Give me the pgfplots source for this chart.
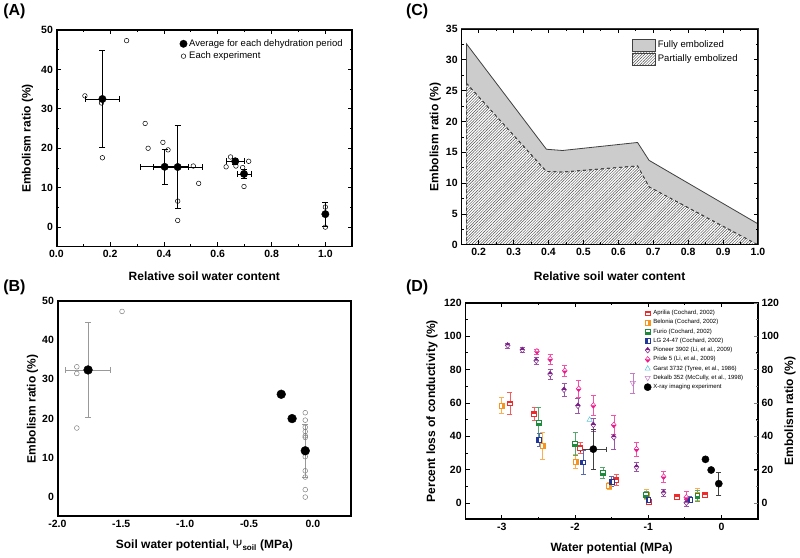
\documentclass[border=0pt]{standalone}
\usepackage{fontspec}
\setmainfont{Liberation Sans}
\usepackage{pgfplots}
\pgfplotsset{compat=1.18}
\usetikzlibrary{patterns.meta}

% half-filled marks
\pgfdeclareplotmark{sqtop}{%
  \begin{pgfscope}\pgfsetfillcolor{white}%
  \pgfpathrectangle{\pgfpoint{-\pgfplotmarksize}{-\pgfplotmarksize}}{\pgfpoint{2\pgfplotmarksize}{2\pgfplotmarksize}}\pgfusepathqfill\end{pgfscope}%
  \pgfpathrectangle{\pgfpoint{-\pgfplotmarksize}{0pt}}{\pgfpoint{2\pgfplotmarksize}{\pgfplotmarksize}}\pgfusepathqfill
  \pgfpathrectangle{\pgfpoint{-\pgfplotmarksize}{-\pgfplotmarksize}}{\pgfpoint{2\pgfplotmarksize}{2\pgfplotmarksize}}\pgfusepathqstroke}
\pgfdeclareplotmark{sqbot}{%
  \begin{pgfscope}\pgfsetfillcolor{white}%
  \pgfpathrectangle{\pgfpoint{-\pgfplotmarksize}{-\pgfplotmarksize}}{\pgfpoint{2\pgfplotmarksize}{2\pgfplotmarksize}}\pgfusepathqfill\end{pgfscope}%
  \pgfpathrectangle{\pgfpoint{-\pgfplotmarksize}{-\pgfplotmarksize}}{\pgfpoint{2\pgfplotmarksize}{\pgfplotmarksize}}\pgfusepathqfill
  \pgfpathrectangle{\pgfpoint{-\pgfplotmarksize}{-\pgfplotmarksize}}{\pgfpoint{2\pgfplotmarksize}{2\pgfplotmarksize}}\pgfusepathqstroke}
\pgfdeclareplotmark{sqleft}{%
  \begin{pgfscope}\pgfsetfillcolor{white}%
  \pgfpathrectangle{\pgfpoint{-\pgfplotmarksize}{-\pgfplotmarksize}}{\pgfpoint{2\pgfplotmarksize}{2\pgfplotmarksize}}\pgfusepathqfill\end{pgfscope}%
  \pgfpathrectangle{\pgfpoint{-\pgfplotmarksize}{-\pgfplotmarksize}}{\pgfpoint{\pgfplotmarksize}{2\pgfplotmarksize}}\pgfusepathqfill
  \pgfpathrectangle{\pgfpoint{-\pgfplotmarksize}{-\pgfplotmarksize}}{\pgfpoint{2\pgfplotmarksize}{2\pgfplotmarksize}}\pgfusepathqstroke}
\pgfdeclareplotmark{sqright}{%
  \begin{pgfscope}\pgfsetfillcolor{white}%
  \pgfpathrectangle{\pgfpoint{-\pgfplotmarksize}{-\pgfplotmarksize}}{\pgfpoint{2\pgfplotmarksize}{2\pgfplotmarksize}}\pgfusepathqfill\end{pgfscope}%
  \pgfpathrectangle{\pgfpoint{0pt}{-\pgfplotmarksize}}{\pgfpoint{\pgfplotmarksize}{2\pgfplotmarksize}}\pgfusepathqfill
  \pgfpathrectangle{\pgfpoint{-\pgfplotmarksize}{-\pgfplotmarksize}}{\pgfpoint{2\pgfplotmarksize}{2\pgfplotmarksize}}\pgfusepathqstroke}
\def\dmpath{\pgfpathmoveto{\pgfpoint{0pt}{1.2\pgfplotmarksize}}\pgfpathlineto{\pgfpoint{\pgfplotmarksize}{0pt}}\pgfpathlineto{\pgfpoint{0pt}{-1.2\pgfplotmarksize}}\pgfpathlineto{\pgfpoint{-\pgfplotmarksize}{0pt}}\pgfpathclose}
\pgfdeclareplotmark{dmtop}{%
  \begin{pgfscope}\pgfsetfillcolor{white}\dmpath\pgfusepathqfill\end{pgfscope}%
  \pgfpathmoveto{\pgfpoint{-\pgfplotmarksize}{0pt}}\pgfpathlineto{\pgfpoint{0pt}{1.2\pgfplotmarksize}}\pgfpathlineto{\pgfpoint{\pgfplotmarksize}{0pt}}\pgfpathclose\pgfusepathqfill
  \dmpath\pgfusepathqstroke}
\pgfdeclareplotmark{dmbot}{%
  \begin{pgfscope}\pgfsetfillcolor{white}\dmpath\pgfusepathqfill\end{pgfscope}%
  \pgfpathmoveto{\pgfpoint{-\pgfplotmarksize}{0pt}}\pgfpathlineto{\pgfpoint{0pt}{-1.2\pgfplotmarksize}}\pgfpathlineto{\pgfpoint{\pgfplotmarksize}{0pt}}\pgfpathclose\pgfusepathqfill
  \dmpath\pgfusepathqstroke}

\definecolor{cApr}{HTML}{EE2A2A}
\definecolor{cBel}{HTML}{F7941D}
\definecolor{cFur}{HTML}{1E8A3C}
\definecolor{cLG}{HTML}{22379A}
\definecolor{cPio}{HTML}{7A1F86}
\definecolor{cPri}{HTML}{F0198C}
\definecolor{cGar}{HTML}{5CC6DC}
\definecolor{cDek}{HTML}{C47CC4}

\pgfplotsset{
  base/.style={scale only axis, anchor=south west,
    /pgf/number format/assume math mode=true,
    tick label style={font=\bfseries\fontsize{10.5}{12}\selectfont},
    label style={font=\bfseries\fontsize{12}{14}\selectfont},
    tick align=inside, major tick length=4.5pt, minor tick length=2.5pt,
    axis line style={draw=black, line width=1.2pt},
    tick style={draw=black, line width=0.8pt},
    axis background/.style={draw=black, line width=1.2pt},
    after end axis/.append code={\draw[black, line width=1.2pt] ([shift={(0.7pt,0.7pt)}]rel axis cs:0,0) rectangle ([shift={(-0.7pt,-0.7pt)}]rel axis cs:1,1);}},
  onedec/.style={xticklabel style={/pgf/number format/fixed, /pgf/number format/fixed zerofill, /pgf/number format/precision=1}},
  dser/.style n args={2}{only marks, mark=#1, mark size=2.4pt, color=#2,
    mark options={draw=#2, fill=#2, line width=0.5pt, solid},
    error bars/y dir=both, error bars/y explicit,
    error bars/error bar style={#2!75, line width=0.6pt},
    error bars/error mark options={rotate=90, #2!75, mark size=2.5pt, line width=0.6pt}},
}

\begin{document}
\begin{tikzpicture}[x=1pt,y=1pt]
\path (0,0) rectangle (800,558);

\node[font=\bfseries\fontsize{16}{18}\selectfont] at (14,547) {(A)};
\node[font=\bfseries\fontsize{16}{18}\selectfont] at (417,547) {(C)};
\node[font=\bfseries\fontsize{16}{18}\selectfont] at (14,270) {(B)};
\node[font=\bfseries\fontsize{16}{18}\selectfont] at (417,270) {(D)};

% ---------------- Panel A ----------------
\begin{axis}[base, onedec, at={(56pt,311pt)}, width=296pt, height=217pt,
  xmin=0, xmax=1.1, ymin=-5, ymax=50,
  xtick={0,0.2,0.4,0.6,0.8,1.0}, ytick={0,10,20,30,40,50},
  minor x tick num=1, minor y tick num=1,
  xlabel={Relative soil water content}, ylabel={Embolism ratio (\%)},
  xlabel style={at={(axis description cs:0.5,-0.134)}, anchor=center},
  ylabel style={at={(axis description cs:-0.098,0.5)}, anchor=center},
  legend style={at={(0.985,0.975)}, anchor=north east, draw=none, fill=none,
    font=\fontsize{9.5}{11}\selectfont, row sep=0pt, cells={anchor=west}},
  legend cell align=left]
\addplot[only marks, mark=*, mark size=3.7pt, black,
  error bars/.cd, x dir=both, x explicit, y dir=both, y explicit,
  error bar style={line width=0.8pt}, error mark options={rotate=90, mark size=3pt, line width=0.8pt}]
  coordinates {
  (0.171,32.5) +- (0.065,12.2)
  (0.4025,15.3) +- (0.09,4.5)
  (0.451,15.25) +- (0.09,10.5)
  (0.665,16.7) +- (0.034,0.8)
  (0.6975,13.5) +- (0.026,1.2)
  (1.0,3.3) +- (0,3)
  };
\addlegendentry{Average for each dehydration period}
\addplot[only marks, mark=o, mark size=2.3pt, black, mark options={fill=white, line width=0.5pt}]
  coordinates {
  (0.106,33.3) (0.1675,31.5) (0.171,17.6) (0.261,47.3) (0.33,26.3) (0.341,20.0)
  (0.396,21.5) (0.415,19.6) (0.451,6.6) (0.451,1.7) (0.509,15.5) (0.529,11.1)
  (0.631,15.3) (0.6475,17.8) (0.6675,15.5) (0.6925,15.1) (0.715,16.7) (0.6975,10.3)
  (1.0,5.1) (1.0,0)
  };
\addlegendentry{Each experiment}
\end{axis}

% ---------------- Panel C ----------------
\begin{axis}[base, at={(461pt,313pt)}, width=297pt, height=216pt,
  xmin=0.15, xmax=1.0, ymin=0, ymax=35, axis on top,
  axis line style={draw=black!80, line width=1.2pt},
  xtick={0.2,0.3,0.4,0.5,0.6,0.7,0.8,0.9,1.0}, ytick={0,5,10,15,20,25,30,35},
  xticklabel style={/pgf/number format/fixed, /pgf/number format/fixed zerofill, /pgf/number format/precision=1},
  minor x tick num=1, minor y tick num=1,
  xlabel={Relative soil water content}, ylabel={Embolism ratio (\%)},
  xlabel style={at={(axis description cs:0.5,-0.144)}, anchor=center},
  ylabel style={at={(axis description cs:-0.0875,0.5)}, anchor=center},
  legend style={at={(0.565,0.965)}, anchor=north west, draw=none, fill=none,
    font=\fontsize{9.5}{11}\selectfont, row sep=1pt, cells={anchor=west}},
  legend cell align=left,
  legend image code/.code={\draw[#1,solid] (0pt,-6pt) rectangle (23pt,6pt);}]
\addplot[draw=black!75, line width=0.8pt, fill=black!20] coordinates {
  (0.165,32.6) (0.394,15.5) (0.44,15.3) (0.655,16.6) (0.688,13.7) (1.0,3.4)} \closedcycle;
\addlegendentry{Fully embolized}
\addplot[draw=black!75, dashed, line width=0.8pt, fill=white,
  postaction={pattern color=black!70, pattern={Lines[angle=45,distance=2pt,line width=0.45pt]}}]
  coordinates {
  (0.165,26.2) (0.394,11.9) (0.44,11.8) (0.655,12.8) (0.688,9.4) (1.0,0)} \closedcycle;
\addlegendentry{Partially embolized}
\end{axis}

% ---------------- Panel B ----------------
\begin{axis}[base, onedec, at={(57pt,41pt)}, width=294pt, height=216pt,
  xmin=-2, xmax=0.3, ymin=-5, ymax=50,
  xtick={-2,-1.5,-1,-0.5,0}, ytick={0,10,20,30,40,50},
  major tick length=0pt,
  xlabel={Soil water potential, {\mdseries Ψ}\textsubscript{soil} (MPa)}, ylabel={Embolism ratio (\%)},
  xlabel style={at={(axis description cs:0.5,-0.134)}, anchor=center},
  ylabel style={at={(axis description cs:-0.085,0.5)}, anchor=center}]
\addplot[only marks, mark=o, mark size=2.4pt, gray, mark options={fill=white, line width=0.5pt}]
  coordinates {
  (-1.848,33.2) (-1.848,31.5) (-1.848,17.6) (-1.494,47.3)
  (-0.06,21.5) (-0.06,19.6) (-0.06,17.8) (-0.06,16.7) (-0.06,15.6) (-0.06,15.2)
  (-0.06,10.3) (-0.06,6.7) (-0.06,5.1) (-0.06,1.9) (-0.06,0)
  };
\addplot[only marks, mark=*, mark size=4.4pt, black,
  error bars/.cd, x dir=both, x explicit, y dir=both, y explicit,
  error bar style={gray!80, line width=0.8pt}, error mark options={rotate=90, gray!80, mark size=3pt, line width=0.8pt}]
  coordinates {
  (-1.76,32.4) +- (0.174,12.2)
  (-0.248,26.2) +- (0,0)
  (-0.163,20.0) +- (0,0)
  (-0.06,11.8) +- (0,6.8)
  };
\end{axis}

% ---------------- Panel D ----------------
\begin{axis}[base, at={(465pt,38pt)}, width=293pt, height=217pt,
  xmin=-3.5, xmax=0.5, ymin=-10, ymax=120,
  xtick={-3,-2,-1,0}, ytick={0,20,40,60,80,100,120},
  minor x tick num=1, minor y tick num=1,
  xlabel={Water potential (MPa)}, ylabel={Percent loss of conductivity (\%)},
  xlabel style={at={(axis description cs:0.5,-0.134)}, anchor=center},
  ylabel style={at={(axis description cs:-0.113,0.5)}, anchor=center},
  legend style={at={(0.6,0.985)}, anchor=north west, draw=none, fill=none,
    font=\fontsize{6}{7}\selectfont, row sep=-0.6pt, cells={anchor=west}},
  legend cell align=left]
\addplot[dser={sqtop}{cApr}] coordinates {
  (-2.89,59.8) +- (0,6.5) (-2.56,53.5) +- (0,4) (-1.93,33.3) +- (0,3.4)
  (-1.44,13.8) +- (0,3.3) (-0.99,1.0) +- (0,1.5) (-0.61,3.8) +- (0,1.5) (-0.23,4.8) +- (0,1.5)};
\addlegendentry{Aprilia (Cochard, 2002)}
\addplot[dser={sqright}{cBel}] coordinates {
  (-3.0,58.3) +- (0,4.8) (-2.44,34.5) +- (0,8) (-1.99,24.8) +- (0,4.2)
  (-1.535,10.5) +- (0,2) (-1.02,5.0) +- (0,3) (-0.33,5.2) +- (0,3.5)};
\addlegendentry{Belonia (Cochard, 2002)}
\addplot[dser={sqbot}{cFur}] coordinates {
  (-2.50,47.9) +- (0,9.6) (-2.0,35.6) +- (0,7) (-1.62,18.2) +- (0,3.5)
  (-1.03,4.8) +- (0,2) (-0.33,4.4) +- (0,3.5)};
\addlegendentry{Furio (Cochard, 2002)}
\addplot[dser={sqleft}{cLG}] coordinates {
  (-2.49,37.9) +- (0,4) (-1.89,24.4) +- (0,7) (-1.50,12.8) +- (0,3)
  (-1.0,2.2) +- (0,1.5) (-0.43,2.2) +- (0,2)};
\addlegendentry{LG 24-47 (Cochard, 2002)}
\addplot[dser={dmtop}{cPio}] coordinates {
  (-2.92,94.5) +- (0,1.5) (-2.72,91.8) +- (0,1.5) (-2.53,85.3) +- (0,2)
  (-2.34,77.3) +- (0,3) (-2.15,67.9) +- (0,4) (-1.96,58.3) +- (0,4.5)
  (-1.75,46.9) +- (0,4) (-1.47,39.5) +- (0,7.5) (-1.16,21.5) +- (0,2.7)
  (-0.79,6.2) +- (0,2) (-0.48,0.2) +- (0,2)};
\addlegendentry{Pioneer 3902 (Li, et al., 2009)}
\addplot[dser={dmbot}{cPri}] coordinates {
  (-2.52,90.9) +- (0,1.5) (-2.34,86.3) +- (0,3) (-2.14,79.3) +- (0,3.5)
  (-1.95,68.5) +- (0,5) (-1.75,58.5) +- (0,6) (-1.47,46.8) +- (0,5.5)
  (-1.16,32.3) +- (0,4) (-0.79,15.8) +- (0,3.3) (-0.48,3.4) +- (0,3.5)};
\addlegendentry{Pride 5 (Li, et al., 2009)}
\addplot[only marks, mark=triangle, mark size=3pt, color=cGar, mark options={fill=white, line width=0.5pt}]
  coordinates {(-1.80,49.9)};
\addlegendentry{Garst 3732 (Tyree, et al., 1986)}
\addplot[only marks, mark=triangle, mark size=3pt, color=cDek, mark options={fill=white, rotate=180, line width=0.5pt},
  error bars/.cd, y dir=both, y explicit, error bar style={cDek, line width=0.6pt}, error mark options={rotate=90, cDek, mark size=2.5pt, line width=0.6pt}]
  coordinates {(-1.21,72) +- (0,6)};
\addlegendentry{Dekalb 352 (McCully, et al., 1998)}
\addplot[only marks, mark=*, mark size=3.6pt, black,
  error bars/.cd, x dir=both, x explicit, y dir=both, y explicit,
  error bar style={black!75, line width=0.7pt}, error mark options={rotate=90, black!75, mark size=2.5pt, line width=0.7pt}]
  coordinates {(-1.75,32.3) +- (0.175,12) (-0.218,26.2) +- (0,0) (-0.14,19.8) +- (0,0) (-0.036,11.6) +- (0,6.7)};
\addlegendentry{X-ray imaging experiment}
\end{axis}
\begin{axis}[scale only axis, anchor=south west, at={(465pt,38pt)}, width=293pt, height=217pt,
  /pgf/number format/assume math mode=true,
  tick label style={font=\bfseries\fontsize{10.5}{12}\selectfont},
  label style={font=\bfseries\fontsize{12}{14}\selectfont},
  tick align=inside, major tick length=4.5pt, minor tick length=2.5pt,
  xmin=-3.5, xmax=0.5, ymin=-10, ymax=120, hide x axis, axis y line*=right,
  ytick={0,20,40,60,80,100,120}, minor y tick num=1,
  ylabel={Embolism ratio (\%)},
  ylabel style={at={(axis description cs:1.109,0.5)}, anchor=center}]
\addplot[draw=none] coordinates {(0,0)};
\end{axis}
\end{tikzpicture}
\end{document}
